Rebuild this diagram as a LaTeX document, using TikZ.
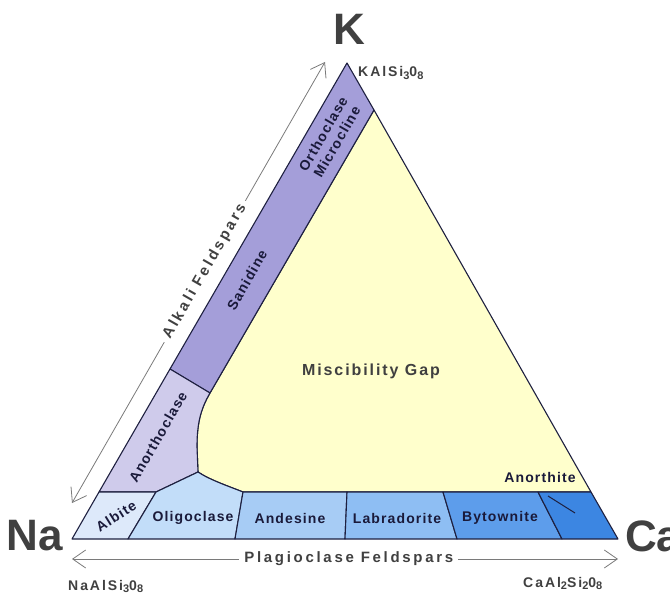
\documentclass[tikz,border=0pt]{standalone}
\usepackage{fontspec}
\setmainfont{Liberation Sans}
\newfontfamily\mineralfont[LetterSpace=8]{Liberation Sans}
\newfontfamily\gapfont[LetterSpace=12]{Liberation Sans}
\newfontfamily\seriesfont[LetterSpace=18]{Liberation Sans}
\newfontfamily\formulafont[LetterSpace=14]{Liberation Sans}
\usetikzlibrary{arrows.meta}
\newcommand{\lowidx}[1]{\raisebox{-0.35ex}{\fontsize{11}{11}\selectfont#1}}
\definecolor{gapyellow}{HTML}{FFFFCC}
\definecolor{sanidine}{HTML}{A49ED9}
\definecolor{anorthoclase}{HTML}{CFCBEB}
\definecolor{albite}{HTML}{DDE9FA}
\definecolor{oligoclase}{HTML}{C2DDF9}
\definecolor{andesine}{HTML}{A7CCF5}
\definecolor{labradorite}{HTML}{8EBEF3}
\definecolor{bytownite}{HTML}{5D9DEB}
\definecolor{anorthite}{HTML}{3C86E2}
\definecolor{edgecol}{HTML}{1E2040}
\definecolor{labcol}{HTML}{1A1A3A}
\definecolor{arrowcol}{HTML}{7A7A7A}
\definecolor{vertexcol}{HTML}{404040}
\tikzset{region/.style={draw=edgecol,line width=1.1pt,line join=round}  }
\tikzset{mineral/.style={font=\mineralfont\bfseries\fontsize{14}{16}\selectfont,text=labcol,inner sep=0pt,align=center}  }
\tikzset{endmember/.style={font=\bfseries\fontsize{44}{44}\selectfont,text=vertexcol,inner sep=0pt}  }
\tikzset{formula/.style={font=\formulafont\bfseries\fontsize{14}{14}\selectfont,text=vertexcol,inner sep=0pt}  }
\tikzset{series/.style={draw=arrowcol,line width=0.8pt,{Straight Barb[length=13pt,width=18pt]}-{Straight Barb[length=13pt,width=18pt]}}  }
\tikzset{serieslabel/.style={font=\seriesfont\bfseries\fontsize{15}{15}\selectfont,text=vertexcol,fill=white,inner xsep=5pt,inner ysep=2pt}  }
\begin{document}
\begin{tikzpicture}[x=1pt,y=-1pt]
\useasboundingbox (0,0) rectangle (670,596);

  % corners of the ternary triangle
  \coordinate (K) at (347,63);
  \coordinate (Na) at (72,539);
  \coordinate (Ca) at (618,539);
  % alkali feldspar band
  \coordinate (kin) at (374,110);
  \coordinate (sanR) at (210,393);
  \coordinate (sanL) at (170,369);
  \coordinate (gapw) at (197,447);
  \coordinate (junc) at (198,472);
  % plagioclase band
  \coordinate (albT) at (99,492);
  \coordinate (oliT) at (156,492);
  \coordinate (oliB) at (128,539);
  \coordinate (t2) at (243,492); \coordinate (b2) at (235,539);
  \coordinate (t3) at (347,492); \coordinate (b3) at (345,539);
  \coordinate (t4) at (443,492); \coordinate (b4) at (457,539);
  \coordinate (t5) at (538,492); \coordinate (b5) at (562,539);
  \coordinate (t6) at (591,492); \coordinate (b6) at (618,539);

  \filldraw[region,fill=gapyellow] (kin) -- (t6) -- (t2) .. controls (228,486) and (210,480) .. (junc) -- (gapw) .. controls (197,425) and (200,410) .. (sanR) -- cycle;
  \filldraw[region,fill=sanidine] (K) -- (kin) -- (sanR) -- (sanL) -- cycle;
  \filldraw[region,fill=anorthoclase] (sanL) -- (sanR) .. controls (200,410) and (197,425) .. (gapw) -- (junc) -- (oliT) -- (albT) -- cycle;
  \filldraw[region,fill=albite] (albT) -- (oliT) -- (oliB) -- (Na) -- cycle;
  \filldraw[region,fill=oligoclase] (oliT) -- (junc) .. controls (210,480) and (228,486) .. (t2) -- (b2) -- (oliB) -- cycle;

  \foreach \i/\col in {2/andesine,3/labradorite,4/bytownite,5/anorthite}
  {
    \pgfmathtruncatemacro{\j}{\i+1};
    \filldraw[region,fill=\col] (t\i) -- (t\j) -- (b\j) -- (b\i) -- cycle;
  }

  \node[mineral,rotate=60] (lblOrtho) at (330,138) {Orthoclase\\Microcline};
  \node[mineral,rotate=60] (lblSanidine) at (247,280) {Sanidine};
  \node[mineral,rotate=60] (lblAnortho) at (158,437) {Anorthoclase};
  \node[mineral,rotate=32] (lblAlbite) at (116,516) {Albite};
  \foreach \name/\x in {Oligoclase/193,Andesine/290,Labradorite/397,Bytownite/500}
  {
    \node[mineral] (lbl\name) at (\x,518) {\name};
  }
  \node[mineral] (lblAnorthite) at (540,477) {Anorthite};
  \coordinate (leadA) at (548,496);
  \coordinate (leadB) at (575,513);
  \draw[edgecol,line width=1pt] (leadA) -- (leadB);
  \node[mineral,font=\gapfont\bfseries\fontsize{16}{16}\selectfont,text=vertexcol] (lblGap) at (371,371) {Miscibility Gap};

  % end members
  \node[endmember] (lblK) at (349,29) {K};
  \node[endmember] (lblNa) at (35,536) {Na};
  \node[endmember,anchor=west] (lblCa) at (625,536) {Ca};
  \node[formula,anchor=base west] (fK) at (358,77) {KAlSi\lowidx{3}0\lowidx{8}};
  \node[formula,anchor=base west] (fNa) at (68,590) {NaAlSi\lowidx{3}0\lowidx{8}};
  \node[formula,anchor=base west] (fCa) at (523,587) {CaAl\lowidx{2}Si\lowidx{2}0\lowidx{8}};

  % solid solution series
  \coordinate (alkB) at (72,503);
  \coordinate (alkT) at (325,62);
  \coordinate (plgL) at (72,559);
  \coordinate (plgR) at (618,559);
  \draw[series] (alkB) -- node[serieslabel,sloped,pos=0.525] (lblAlkali) {Alkali Feldspars} (alkT);
  \draw[series] (plgL) -- node[serieslabel,pos=0.507] (lblPlag) {Plagioclase Feldspars} (plgR);
\end{tikzpicture}
\end{document}
